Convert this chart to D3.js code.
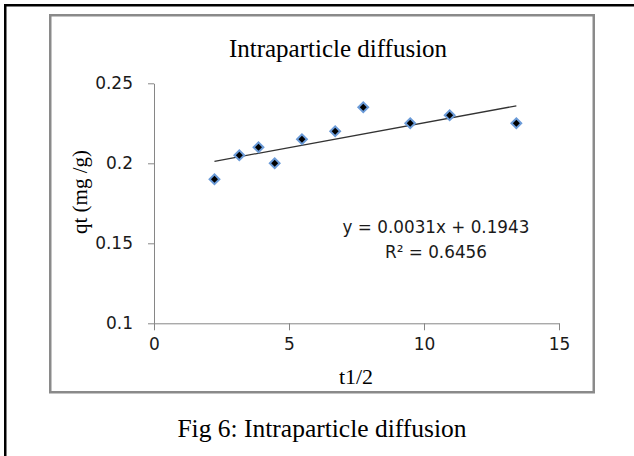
<!DOCTYPE html>
<html>
<head>
<meta charset="utf-8">
<script src="https://cdn.jsdelivr.net/npm/d3@7"></script>
<style>
  body { margin: 0; background: #fff; }
</style>
</head>
<body>
<svg></svg>
<script>
// square root of time and adsorbed amount
var tValues = [2.24, 3.16, 3.87, 4.47, 5.48, 6.71, 7.75, 9.49, 10.95, 13.42];
var qtValues = [0.19, 0.205, 0.21, 0.2, 0.215, 0.22, 0.235, 0.225, 0.23, 0.225];
var xTicks = [0, 5, 10, 15];
var yTicks = [0.1, 0.15, 0.2, 0.25];
var yTickLabels = ["0.1", "0.15", "0.2", "0.25"];
var trendSlope = 0.0031, trendIntercept = 0.1943;
var equationLines = ["y = 0.0031x + 0.1943", "R² = 0.6456"];

var svgWidth = 634, svgHeight = 456;

var svg = d3.select('svg')
    .attr("width", svgWidth)
    .attr("height", svgHeight);

// page frame (only left/top visible)
svg.append("rect")
    .attr("x", 5.25).attr("y", 5.25)
    .attr("width", 700).attr("height", 600)
    .style("fill", "none")
    .style("stroke", "#000")
    .style("stroke-width", 2.5);

// chart area box
svg.append("rect")
    .attr("x", 50.25).attr("y", 15.25)
    .attr("width", 543.5).attr("height", 377)
    .style("fill", "#fff")
    .style("stroke", "#8a8a8a")
    .style("stroke-width", 2.5);

var plotLeft = 154, plotTop = 83.3, width = 405, height = 240;

var xScale = d3.scaleLinear().domain([0, 15]).range([0, width]),
    yScale = d3.scaleLinear().domain([0.1, 0.25]).range([height, 0]);

var g = svg.append("g")
    .attr("transform", "translate(" + plotLeft + "," + plotTop + ")");

// Title
svg.append('text')
    .attr('x', 338)
    .attr('y', 57)
    .attr('text-anchor', 'middle')
    .style('font-family', 'Liberation Serif')
    .style('font-size', 25)
    .text('Intraparticle diffusion');

var xAxis = g.append("g")
    .attr("transform", "translate(0," + height + ")")
    .call(d3.axisBottom(xScale).tickValues(xTicks).tickSize(7).tickSizeOuter(0).tickPadding(8));

var yAxis = g.append("g")
    .call(d3.axisLeft(yScale).tickValues(yTicks).tickSize(6).tickSizeOuter(0).tickPadding(15)
        .tickFormat(function (d, i) { return yTickLabels[i]; }));

[xAxis, yAxis].forEach(function (a) {
    a.select(".domain").style("stroke", "#868686");
    a.selectAll(".tick line").style("stroke", "#868686");
    a.selectAll(".tick text")
        .style("font-family", "DejaVu Sans")
        .style("font-size", "17px")
        .style("fill", "#1a1a1a");
});

// X label
svg.append('text')
    .attr('x', 356)
    .attr('y', 384)
    .attr('text-anchor', 'middle')
    .style('font-family', 'Liberation Serif')
    .style('font-size', 22)
    .text('t1/2');

// Y label
svg.append('text')
    .attr('text-anchor', 'middle')
    .attr('transform', 'translate(87,192)rotate(-90)')
    .style('font-family', 'Liberation Serif')
    .style('font-size', 21)
    .text('qt (mg /g)');

// linear trendline over the data range
var xExt = d3.extent(tValues);
var line = d3.line()
    .x(function (d) { return xScale(d); })
    .y(function (d) { return yScale(trendSlope * d + trendIntercept); });

g.append("path")
    .datum(xExt)
    .attr("d", line)
    .style("fill", "none")
    .style("stroke", "#333")
    .style("stroke-width", 1.3);

var diamond = d3.symbol().type(d3.symbolSquare).size(48);

g.selectAll("path.pt")
    .data(tValues)
    .enter()
    .append("path")
    .attr("class", "pt")
    .attr("d", diamond)
    .attr("transform", function (d, i) {
        return "translate(" + xScale(d) + "," + yScale(qtValues[i]) + ")rotate(45)";
    })
    .style("fill", "#000")
    .style("stroke", "#6b9bd8")
    .style("stroke-width", 2);

// trendline equation
svg.append("g").selectAll("text")
    .data(equationLines)
    .enter()
    .append("text")
    .attr("x", 436)
    .attr("y", function (d, i) { return 233 + i * 25; })
    .attr("text-anchor", "middle")
    .style("font-family", "DejaVu Sans")
    .style("font-size", 16.8)
    .style("fill", "#1a1a1a")
    .text(function (d) { return d; });

// Caption
svg.append('text')
    .attr('x', 322)
    .attr('y', 437)
    .attr('text-anchor', 'middle')
    .style('font-family', 'Liberation Serif')
    .style('font-size', 25.5)
    .text('Fig 6: Intraparticle diffusion');
</script>
</body>
</html>
